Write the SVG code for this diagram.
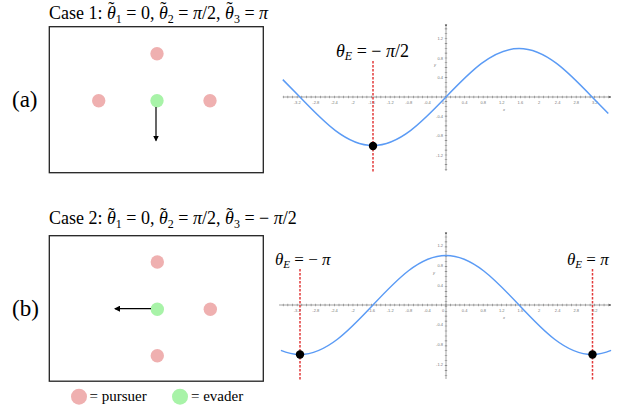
<svg xmlns="http://www.w3.org/2000/svg" width="633" height="411" viewBox="0 0 633 411">
<defs>
<marker id="ah" viewBox="0 0 6 6" refX="5" refY="3" markerWidth="5" markerHeight="5" orient="auto"><path d="M0,0 L6,3 L0,6 Z" fill="#000"/></marker>
<marker id="axh" viewBox="0 0 6 6" refX="5" refY="3" markerWidth="4" markerHeight="4" orient="auto"><path d="M0,0.5 L6,3 L0,5.5 Z" fill="#555"/></marker>
</defs>
<style>
.t{font-family:"Liberation Serif","Times New Roman",serif;fill:#000}
.box{fill:#fff;stroke:#222;stroke-width:1.3}
.p{fill:#efb0b0}
.e{fill:#a8f3a8}
.arr{stroke:#000;stroke-width:1.2;fill:none}
.ax{stroke:#666;stroke-width:0.6;fill:none}
.tk{stroke:#777;fill:none}
.tl{font-family:"Liberation Sans",Arial,sans-serif;font-size:4px;fill:#777}
.cv{stroke:#5b9bf5;stroke-width:1.5;fill:none}
.rd{stroke:#e23a3a;stroke-width:1.5;stroke-dasharray:2.5 1.5;fill:none}
.dot{fill:#000}
.i{font-style:italic}
.s{font-size:12px}
</style>

<text class="t" x="49" y="18.5" font-size="18">Case 1: <tspan class="i">θ</tspan><tspan dx="-7.5" dy="-3.5">˜</tspan><tspan class="s" dx="1.5" dy="7.5">1</tspan><tspan dy="-4"> = 0, </tspan><tspan class="i">θ</tspan><tspan dx="-7.5" dy="-3.5">˜</tspan><tspan class="s" dx="1.5" dy="7.5">2</tspan><tspan dy="-4"> = </tspan><tspan class="i">π</tspan>/2, <tspan class="i">θ</tspan><tspan dx="-7.5" dy="-3.5">˜</tspan><tspan class="s" dx="1.5" dy="7.5">3</tspan><tspan dy="-4"> = </tspan><tspan class="i">π</tspan></text>
<text class="t" x="49" y="224" font-size="18">Case 2: <tspan class="i">θ</tspan><tspan dx="-7.5" dy="-3.5">˜</tspan><tspan class="s" dx="1.5" dy="7.5">1</tspan><tspan dy="-4"> = 0, </tspan><tspan class="i">θ</tspan><tspan dx="-7.5" dy="-3.5">˜</tspan><tspan class="s" dx="1.5" dy="7.5">2</tspan><tspan dy="-4"> = </tspan><tspan class="i">π</tspan>/2, <tspan class="i">θ</tspan><tspan dx="-7.5" dy="-3.5">˜</tspan><tspan class="s" dx="1.5" dy="7.5">3</tspan><tspan dy="-4"> = − </tspan><tspan class="i">π</tspan>/2</text>

<text class="t" x="12" y="107" font-size="23">(a)</text>
<text class="t" x="12" y="316" font-size="23">(b)</text>

<g id="boxA">
<rect class="box" x="49.3" y="26.7" width="214" height="146"/>
<circle id="pA1" class="p" cx="157" cy="53.7" r="6.7"/>
<circle id="pA2" class="p" cx="98.7" cy="100.7" r="6.7"/>
<circle id="pA3" class="p" cx="210" cy="100.7" r="6.7"/>
<circle id="eA" class="e" cx="157" cy="100.7" r="6.7"/>
</g>
<g id="boxB">
<rect class="box" x="49.3" y="235.7" width="214" height="145.5"/>
<circle id="pB1" class="p" cx="157.3" cy="262" r="6.7"/>
<circle id="pB2" class="p" cx="210.3" cy="309.3" r="6.7"/>
<circle id="pB3" class="p" cx="157.3" cy="355.7" r="6.7"/>
<circle id="eB" class="e" cx="157.3" cy="309.3" r="6.7"/>
</g>
<g id="connectors">
<line class="arr" x1="156" y1="107" x2="156" y2="140.5" marker-end="url(#ah)"/>
<line class="arr" x1="151" y1="308.7" x2="115" y2="308.7" marker-end="url(#ah)"/>
</g>

<g id="legend">
<circle class="p" cx="79" cy="396.7" r="8"/>
<text class="t" x="89.5" y="401" font-size="15">= pursuer</text>
<circle class="e" cx="180" cy="396.7" r="8"/>
<text class="t" x="191" y="401" font-size="15">= evader</text>
</g>

<g id="plotA">
<line class="ax" x1="283" y1="97" x2="611" y2="97" marker-end="url(#axh)"/>
<line class="ax" x1="446" y1="171" x2="446" y2="24" marker-end="url(#axh)"/>
<line class="tk" x1="282.9" y1="97" x2="610" y2="97" stroke-width="2.4" stroke-dasharray="0.6 4.05"/>
<line class="tk" x1="446" y1="24" x2="446" y2="171" stroke-width="2.4" stroke-dasharray="0.6 4.25" stroke-dashoffset="0.3"/>
<g class="tl" text-anchor="middle">
<text x="297.2" y="103.5">-3.2</text><text x="315.8" y="103.5">-2.8</text><text x="334.4" y="103.5">-2.4</text><text x="353" y="103.5">-2</text><text x="371.6" y="103.5">-1.6</text><text x="390.2" y="103.5">-1.2</text><text x="408.8" y="103.5">-0.8</text><text x="427.4" y="103.5">-0.4</text><text x="443" y="103.5">0</text><text x="464.6" y="103.5">0.4</text><text x="483.2" y="103.5">0.8</text><text x="501.8" y="103.5">1.2</text><text x="520.4" y="103.5">1.6</text><text x="539" y="103.5">2</text><text x="557.6" y="103.5">2.4</text><text x="576.2" y="103.5">2.8</text><text x="594.8" y="103.5">3.2</text>
</g>
<g class="tl" text-anchor="end">
<text x="443" y="40.2">1.2</text><text x="443" y="59.6">0.8</text><text x="443" y="79">0.4</text><text x="443" y="117.8">-0.4</text><text x="443" y="137.2">-0.8</text><text x="443" y="156.6">-1.2</text>
</g>
<text class="tl" x="434" y="66" font-style="italic">y</text>
<text class="tl" x="503" y="111" font-style="italic">x</text>
<path class="cv" d="M282.8,79.6 L299.92,97 C323.74,121.85 346.52,145.5 372.96,145.5 C399.39,145.5 422.18,121.85 446,97 C469.82,72.15 492.61,48.5 519.04,48.5 C545.47,48.5 568.26,72.15 592.08,97 L608.3,113.6"/>
<line class="rd" x1="373" y1="61" x2="373" y2="172"/>
<circle class="dot" cx="373" cy="146" r="4.2"/>
<text class="t" x="336" y="57" font-size="18"><tspan class="i">θ</tspan><tspan class="i" font-size="12" dy="3">E</tspan><tspan dy="-3"> = − </tspan><tspan class="i">π</tspan>/2</text>
</g>

<g id="plotB">
<line class="ax" x1="279" y1="305" x2="611" y2="305" marker-end="url(#axh)"/>
<line class="ax" x1="446" y1="379" x2="446" y2="232" marker-end="url(#axh)"/>
<line class="tk" x1="282.9" y1="305" x2="610" y2="305" stroke-width="2.4" stroke-dasharray="0.6 4.05"/>
<line class="tk" x1="446" y1="232" x2="446" y2="379" stroke-width="2.4" stroke-dasharray="0.6 4.35" stroke-dashoffset="0.3"/>
<g class="tl" text-anchor="middle">
<text x="297.2" y="311.5">-3.2</text><text x="315.8" y="311.5">-2.8</text><text x="334.4" y="311.5">-2.4</text><text x="353" y="311.5">-2</text><text x="371.6" y="311.5">-1.6</text><text x="390.2" y="311.5">-1.2</text><text x="408.8" y="311.5">-0.8</text><text x="427.4" y="311.5">-0.4</text><text x="443" y="311.5">0</text><text x="464.6" y="311.5">0.4</text><text x="483.2" y="311.5">0.8</text><text x="501.8" y="311.5">1.2</text><text x="520.4" y="311.5">1.6</text><text x="539" y="311.5">2</text><text x="557.6" y="311.5">2.4</text><text x="576.2" y="311.5">2.8</text><text x="594.8" y="311.5">3.2</text>
</g>
<g class="tl" text-anchor="end">
<text x="443" y="247.1">1.2</text><text x="443" y="266.9">0.8</text><text x="443" y="286.7">0.4</text><text x="443" y="326.3">-0.4</text><text x="443" y="346.1">-0.8</text><text x="443" y="365.9">-1.2</text>
</g>
<text class="tl" x="433" y="274" font-style="italic">y</text>
<text class="tl" x="503" y="319" font-style="italic">x</text>
<path class="cv" d="M280.9,350.4 Q290.4,354.5 299.92,354.5 C326.35,354.5 349.14,330.36 372.96,305 C396.78,279.64 419.57,255.5 446,255.5 C472.43,255.5 495.22,279.64 519.04,305 C542.86,330.36 565.65,354.5 592.08,354.5 Q601.6,354.5 611.1,350.4"/>
<line class="rd" x1="300" y1="269" x2="300" y2="381"/>
<line class="rd" x1="592.5" y1="269" x2="592.5" y2="381"/>
<circle class="dot" cx="300" cy="354.5" r="4.2"/>
<circle class="dot" cx="592.5" cy="354.5" r="4.2"/>
<text class="t" x="275" y="265" font-size="17"><tspan class="i">θ</tspan><tspan class="i" font-size="11" dy="3">E</tspan><tspan dy="-3"> = − </tspan><tspan class="i">π</tspan></text>
<text class="t" x="567" y="265" font-size="17"><tspan class="i">θ</tspan><tspan class="i" font-size="11" dy="3">E</tspan><tspan dy="-3"> = </tspan><tspan class="i">π</tspan></text>
</g>
</svg>
